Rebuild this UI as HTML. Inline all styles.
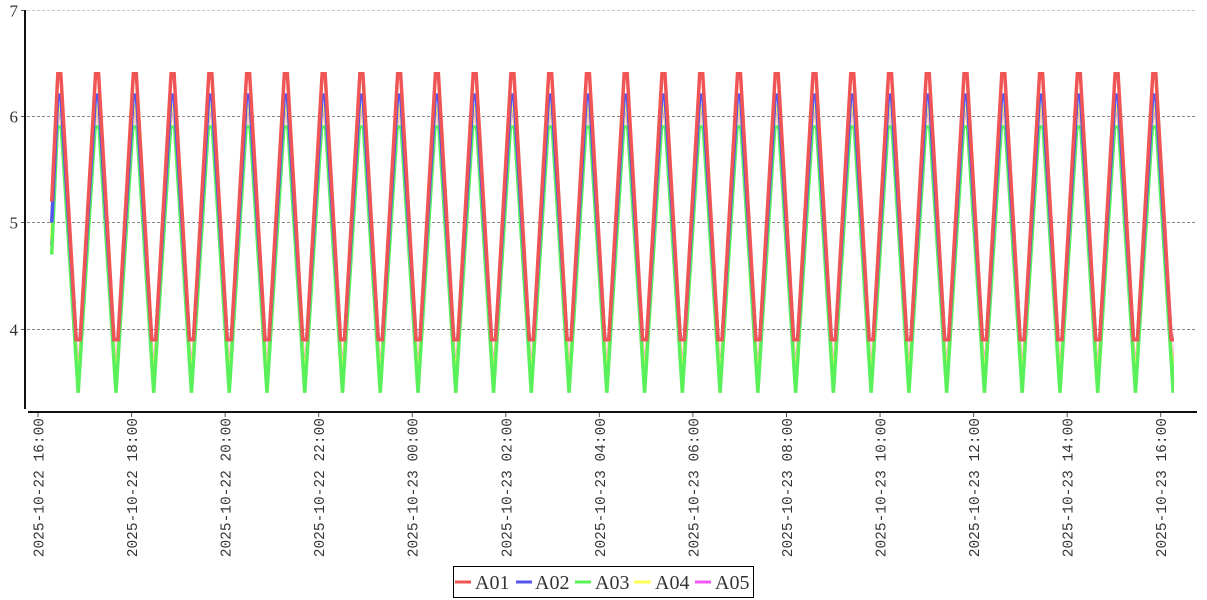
<!DOCTYPE html>
<html>
<head>
<meta charset="utf-8">
<style>
html,body{margin:0;padding:0;background:#fff;}
svg{display:block;}
.xl{font-family:"Liberation Mono",monospace;font-size:14.5px;fill:#333;}
.yl{font-family:"Liberation Serif",serif;font-size:17px;fill:#333;}
.lg{font-family:"Liberation Serif",serif;font-size:20px;fill:#333;}
</style>
</head>
<body>
<svg width="1207" height="600" viewBox="0 0 1207 600" xmlns="http://www.w3.org/2000/svg">
<defs>
<clipPath id="cp"><rect x="0" y="0" width="1174" height="420"/></clipPath>
</defs>
<rect x="0" y="0" width="1207" height="600" fill="#fff"/>

<!-- grid -->
<g stroke-width="1" stroke-dasharray="3,2" fill="none">
<line x1="27" y1="10.5" x2="1197" y2="10.5" stroke="#c4c4c4"/>
<line x1="27" y1="116.5" x2="1197" y2="116.5" stroke="#888"/>
<line x1="27" y1="222.5" x2="1197" y2="222.5" stroke="#888"/>
<line x1="27" y1="329.5" x2="1197" y2="329.5" stroke="#888"/>
</g>

<!-- series -->
<g fill="none" stroke-width="3.5" clip-path="url(#cp)" stroke-linejoin="miter">
<path stroke="rgb(240,90,240)" d="M51.7 246 L57.8 111 h3
l17.38 271.2l17.38-271.2h3 l17.38 271.2l17.38-271.2h3 l17.38 271.2l17.38-271.2h3 l17.38 271.2l17.38-271.2h3 l17.38 271.2l17.38-271.2h3
l17.38 271.2l17.38-271.2h3 l17.38 271.2l17.38-271.2h3 l17.38 271.2l17.38-271.2h3 l17.38 271.2l17.38-271.2h3 l17.38 271.2l17.38-271.2h3
l17.38 271.2l17.38-271.2h3 l17.38 271.2l17.38-271.2h3 l17.38 271.2l17.38-271.2h3 l17.38 271.2l17.38-271.2h3 l17.38 271.2l17.38-271.2h3
l17.38 271.2l17.38-271.2h3 l17.38 271.2l17.38-271.2h3 l17.38 271.2l17.38-271.2h3 l17.38 271.2l17.38-271.2h3 l17.38 271.2l17.38-271.2h3
l17.38 271.2l17.38-271.2h3 l17.38 271.2l17.38-271.2h3 l17.38 271.2l17.38-271.2h3 l17.38 271.2l17.38-271.2h3 l17.38 271.2l17.38-271.2h3
l17.38 271.2l17.38-271.2h3 l17.38 271.2l17.38-271.2h3 l17.38 271.2l17.38-271.2h3 l17.38 271.2l17.38-271.2h3 l17.38 271.2l17.38-271.2h3"/>
<path stroke="rgb(255,255,90)" d="M51.7 238.6 L57.8 105.7 h3
l17.38 281.8l17.38-281.8h3 l17.38 281.8l17.38-281.8h3 l17.38 281.8l17.38-281.8h3 l17.38 281.8l17.38-281.8h3 l17.38 281.8l17.38-281.8h3
l17.38 281.8l17.38-281.8h3 l17.38 281.8l17.38-281.8h3 l17.38 281.8l17.38-281.8h3 l17.38 281.8l17.38-281.8h3 l17.38 281.8l17.38-281.8h3
l17.38 281.8l17.38-281.8h3 l17.38 281.8l17.38-281.8h3 l17.38 281.8l17.38-281.8h3 l17.38 281.8l17.38-281.8h3 l17.38 281.8l17.38-281.8h3
l17.38 281.8l17.38-281.8h3 l17.38 281.8l17.38-281.8h3 l17.38 281.8l17.38-281.8h3 l17.38 281.8l17.38-281.8h3 l17.38 281.8l17.38-281.8h3
l17.38 281.8l17.38-281.8h3 l17.38 281.8l17.38-281.8h3 l17.38 281.8l17.38-281.8h3 l17.38 281.8l17.38-281.8h3 l17.38 281.8l17.38-281.8h3
l17.38 281.8l17.38-281.8h3 l17.38 281.8l17.38-281.8h3 l17.38 281.8l17.38-281.8h3 l17.38 281.8l17.38-281.8h3 l17.38 281.8l17.38-281.8h3"/>
<path stroke="rgb(90,240,90)" d="M51.7 254.6 L57.3 127 h4
l16.88 265.8l16.88-265.8h4 l16.88 265.8l16.88-265.8h4 l16.88 265.8l16.88-265.8h4 l16.88 265.8l16.88-265.8h4 l16.88 265.8l16.88-265.8h4
l16.88 265.8l16.88-265.8h4 l16.88 265.8l16.88-265.8h4 l16.88 265.8l16.88-265.8h4 l16.88 265.8l16.88-265.8h4 l16.88 265.8l16.88-265.8h4
l16.88 265.8l16.88-265.8h4 l16.88 265.8l16.88-265.8h4 l16.88 265.8l16.88-265.8h4 l16.88 265.8l16.88-265.8h4 l16.88 265.8l16.88-265.8h4
l16.88 265.8l16.88-265.8h4 l16.88 265.8l16.88-265.8h4 l16.88 265.8l16.88-265.8h4 l16.88 265.8l16.88-265.8h4 l16.88 265.8l16.88-265.8h4
l16.88 265.8l16.88-265.8h4 l16.88 265.8l16.88-265.8h4 l16.88 265.8l16.88-265.8h4 l16.88 265.8l16.88-265.8h4 l16.88 265.8l16.88-265.8h4
l16.88 265.8l16.88-265.8h4 l16.88 265.8l16.88-265.8h4 l16.88 265.8l16.88-265.8h4 l16.88 265.8l16.88-265.8h4 l16.88 265.8l16.88-265.8h4"/>
<path stroke="rgb(85,85,240)" d="M51.7 222.7 L57.8 95.1 h3
l15.38 244.5h4l15.38-244.5h3 l15.38 244.5h4l15.38-244.5h3 l15.38 244.5h4l15.38-244.5h3 l15.38 244.5h4l15.38-244.5h3 l15.38 244.5h4l15.38-244.5h3
l15.38 244.5h4l15.38-244.5h3 l15.38 244.5h4l15.38-244.5h3 l15.38 244.5h4l15.38-244.5h3 l15.38 244.5h4l15.38-244.5h3 l15.38 244.5h4l15.38-244.5h3
l15.38 244.5h4l15.38-244.5h3 l15.38 244.5h4l15.38-244.5h3 l15.38 244.5h4l15.38-244.5h3 l15.38 244.5h4l15.38-244.5h3 l15.38 244.5h4l15.38-244.5h3
l15.38 244.5h4l15.38-244.5h3 l15.38 244.5h4l15.38-244.5h3 l15.38 244.5h4l15.38-244.5h3 l15.38 244.5h4l15.38-244.5h3 l15.38 244.5h4l15.38-244.5h3
l15.38 244.5h4l15.38-244.5h3 l15.38 244.5h4l15.38-244.5h3 l15.38 244.5h4l15.38-244.5h3 l15.38 244.5h4l15.38-244.5h3 l15.38 244.5h4l15.38-244.5h3
l15.38 244.5h4l15.38-244.5h3 l15.38 244.5h4l15.38-244.5h3 l15.38 244.5h4l15.38-244.5h3 l15.38 244.5h4l15.38-244.5h3 l15.38 244.5h4l15.38-244.5h3"/>
<path stroke="rgb(240,85,85)" d="M51.7 201.4 L57.8 73.8 h3
l15.38 265.8h4l15.38-265.8h3 l15.38 265.8h4l15.38-265.8h3 l15.38 265.8h4l15.38-265.8h3 l15.38 265.8h4l15.38-265.8h3 l15.38 265.8h4l15.38-265.8h3
l15.38 265.8h4l15.38-265.8h3 l15.38 265.8h4l15.38-265.8h3 l15.38 265.8h4l15.38-265.8h3 l15.38 265.8h4l15.38-265.8h3 l15.38 265.8h4l15.38-265.8h3
l15.38 265.8h4l15.38-265.8h3 l15.38 265.8h4l15.38-265.8h3 l15.38 265.8h4l15.38-265.8h3 l15.38 265.8h4l15.38-265.8h3 l15.38 265.8h4l15.38-265.8h3
l15.38 265.8h4l15.38-265.8h3 l15.38 265.8h4l15.38-265.8h3 l15.38 265.8h4l15.38-265.8h3 l15.38 265.8h4l15.38-265.8h3 l15.38 265.8h4l15.38-265.8h3
l15.38 265.8h4l15.38-265.8h3 l15.38 265.8h4l15.38-265.8h3 l15.38 265.8h4l15.38-265.8h3 l15.38 265.8h4l15.38-265.8h3 l15.38 265.8h4l15.38-265.8h3
l15.38 265.8h4l15.38-265.8h3 l15.38 265.8h4l15.38-265.8h3 l15.38 265.8h4l15.38-265.8h3 l15.38 265.8h4l15.38-265.8h3 l15.38 265.8h4l15.38-265.8h3"/>
</g>

<!-- axes -->
<line x1="25" y1="10" x2="25" y2="409" stroke="#111" stroke-width="2"/>
<line x1="28" y1="412" x2="1197" y2="412" stroke="#111" stroke-width="2"/>
<g stroke="#555" stroke-width="1">
<line x1="21" y1="10.5" x2="24" y2="10.5"/>
<line x1="21" y1="116.5" x2="24" y2="116.5"/>
<line x1="21" y1="222.5" x2="24" y2="222.5"/>
<line x1="21" y1="329.5" x2="24" y2="329.5"/>
<line x1="38" y1="413" x2="38" y2="417"/>
<line x1="131.56" y1="413" x2="131.56" y2="417"/>
<line x1="225.12" y1="413" x2="225.12" y2="417"/>
<line x1="318.68" y1="413" x2="318.68" y2="417"/>
<line x1="412.24" y1="413" x2="412.24" y2="417"/>
<line x1="505.8" y1="413" x2="505.8" y2="417"/>
<line x1="599.36" y1="413" x2="599.36" y2="417"/>
<line x1="692.92" y1="413" x2="692.92" y2="417"/>
<line x1="786.48" y1="413" x2="786.48" y2="417"/>
<line x1="880.04" y1="413" x2="880.04" y2="417"/>
<line x1="973.6" y1="413" x2="973.6" y2="417"/>
<line x1="1067.16" y1="413" x2="1067.16" y2="417"/>
<line x1="1160.72" y1="413" x2="1160.72" y2="417"/>
</g>

<!-- y labels -->
<g class="yl" text-anchor="end">
<text x="18" y="16.5">7</text>
<text x="18" y="122.5">6</text>
<text x="18" y="228.5">5</text>
<text x="18" y="335.5">4</text>
</g>

<!-- x labels -->
<g class="xl" text-anchor="end">
<text transform="translate(43.5,418) rotate(-90)">2025-10-22 16:00</text>
<text transform="translate(137.06,418) rotate(-90)">2025-10-22 18:00</text>
<text transform="translate(230.62,418) rotate(-90)">2025-10-22 20:00</text>
<text transform="translate(324.18,418) rotate(-90)">2025-10-22 22:00</text>
<text transform="translate(417.74,418) rotate(-90)">2025-10-23 00:00</text>
<text transform="translate(511.3,418) rotate(-90)">2025-10-23 02:00</text>
<text transform="translate(604.86,418) rotate(-90)">2025-10-23 04:00</text>
<text transform="translate(698.42,418) rotate(-90)">2025-10-23 06:00</text>
<text transform="translate(791.98,418) rotate(-90)">2025-10-23 08:00</text>
<text transform="translate(885.54,418) rotate(-90)">2025-10-23 10:00</text>
<text transform="translate(979.1,418) rotate(-90)">2025-10-23 12:00</text>
<text transform="translate(1072.66,418) rotate(-90)">2025-10-23 14:00</text>
<text transform="translate(1166.22,418) rotate(-90)">2025-10-23 16:00</text>
</g>

<!-- legend -->
<rect x="453.5" y="566.5" width="300" height="31" fill="#fff" stroke="#000" stroke-width="1"/>
<g stroke-width="3">
<line x1="455" y1="582" x2="471" y2="582" stroke="rgb(240,85,85)"/>
<line x1="516" y1="582" x2="532" y2="582" stroke="rgb(85,85,240)"/>
<line x1="575" y1="582" x2="591" y2="582" stroke="rgb(90,240,90)"/>
<line x1="634" y1="582" x2="651" y2="582" stroke="rgb(255,255,90)"/>
<line x1="695" y1="582" x2="711" y2="582" stroke="rgb(240,90,240)"/>
</g>
<g class="lg">
<text x="475" y="589">A01</text>
<text x="535" y="589">A02</text>
<text x="595" y="589">A03</text>
<text x="655" y="589">A04</text>
<text x="715" y="589">A05</text>
</g>
</svg>
</body>
</html>
